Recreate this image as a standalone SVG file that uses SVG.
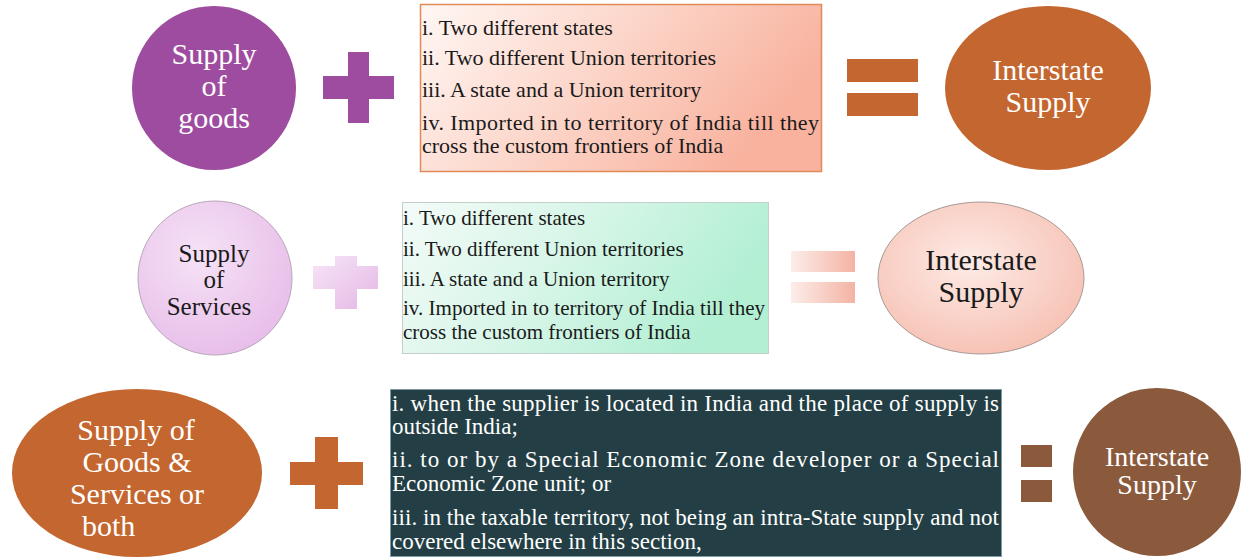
<svg xmlns="http://www.w3.org/2000/svg" width="1243" height="560" viewBox="0 0 1243 560">
  <defs>
    <linearGradient id="gPeach" x1="0" y1="0" x2="1" y2="0.35">
      <stop offset="0" stop-color="#FFF7F4"/>
      <stop offset="0.5" stop-color="#FCD6CA"/>
      <stop offset="1" stop-color="#F8B29E"/>
    </linearGradient>
    <linearGradient id="gMint" x1="0" y1="0" x2="1" y2="0.3">
      <stop offset="0" stop-color="#F4FBF8"/>
      <stop offset="0.55" stop-color="#D3F5E6"/>
      <stop offset="1" stop-color="#B2EFD3"/>
    </linearGradient>
    <radialGradient id="gLav" cx="0.4" cy="0.35" r="0.7">
      <stop offset="0" stop-color="#F6E2F6"/>
      <stop offset="1" stop-color="#E7BDE9"/>
    </radialGradient>
    <linearGradient id="gLavPlus" x1="0" y1="0" x2="1" y2="1">
      <stop offset="0" stop-color="#F7E6F7"/>
      <stop offset="1" stop-color="#E4B6E6"/>
    </linearGradient>
    <linearGradient id="gPinkEq" x1="0" y1="0" x2="1" y2="0">
      <stop offset="0" stop-color="#FCEDE9"/>
      <stop offset="1" stop-color="#F4B3A4"/>
    </linearGradient>
    <radialGradient id="gPinkOval" cx="0.45" cy="0.4" r="0.7">
      <stop offset="0" stop-color="#FDEBE6"/>
      <stop offset="1" stop-color="#F6BCAE"/>
    </radialGradient>
    <style>
      text { font-family: "Liberation Serif", "DejaVu Serif", serif; }
      .big { font-size: 30px; text-anchor: middle; }
      .mid { font-size: 28px; text-anchor: middle; }
      .small { font-size: 25px; text-anchor: middle; }
      .list1 { font-size: 22px; fill: #1a1a1a; }
      .list2 { font-size: 21px; fill: #1a1a1a; }
      .list3 { font-size: 23px; fill: #ffffff; }
      .white { fill: #ffffff; }
      .dark { fill: #1a1a1a; }
    </style>
  </defs>

  <!-- Row 1: goods -->
  <g id="supply-goods">
    <circle cx="214" cy="88" r="82" fill="#9E4C9F"/>
    <text class="big white" x="214" y="64">Supply</text>
    <text class="big white" x="214" y="96">of</text>
    <text class="big white" x="214" y="128">goods</text>
  </g>
  <g id="plus-1" fill="#9E4C9F">
    <rect x="323" y="76" width="71" height="23"/>
    <rect x="348" y="52" width="21" height="71"/>
  </g>
  <g id="conditions-goods">
    <rect x="420.500" y="4.500" width="401" height="167" fill="url(#gPeach)" stroke="#E08A5A" stroke-width="1.500"/>
    <text class="list1" x="422" y="35">i. Two different states</text>
    <text class="list1" x="422" y="65">ii. Two different Union territories</text>
    <text class="list1" x="422" y="97">iii. A state and a Union territory</text>
    <text class="list1" x="422" y="130" textLength="397" lengthAdjust="spacing">iv. Imported in to territory of India till they</text>
    <text class="list1" x="422" y="153">cross the custom frontiers of India</text>
  </g>
  <g id="equals-1" fill="#C4662F">
    <rect x="847" y="59" width="71" height="23"/>
    <rect x="847" y="93" width="71" height="23"/>
  </g>
  <g id="interstate-1">
    <ellipse cx="1048" cy="88" rx="103" ry="82" fill="#C4662F"/>
    <text class="big white" x="1048" y="80">Interstate</text>
    <text class="big white" x="1048" y="112">Supply</text>
  </g>

  <!-- Row 2: services -->
  <g id="supply-services">
    <circle cx="215" cy="278" r="77" fill="url(#gLav)" stroke="#B8A8B8" stroke-width="1"/>
    <text class="small dark" x="214" y="262">Supply</text>
    <text class="small dark" x="214" y="288">of</text>
    <text class="small dark" x="209" y="315">Services</text>
  </g>
  <g id="plus-2" fill="url(#gLavPlus)">
    <path d="M335 256 H357 V266 H378 V289 H357 V309 H335 V289 H313 V266 H335 Z"/>
  </g>
  <g id="conditions-services">
    <rect x="402.500" y="202.500" width="366" height="151" fill="url(#gMint)" stroke="#C5CFCA" stroke-width="1"/>
    <text class="list2" x="403" y="225">i. Two different states</text>
    <text class="list2" x="403" y="256">ii. Two different Union territories</text>
    <text class="list2" x="403" y="286">iii. A state and a Union territory</text>
    <text class="list2" x="403" y="315" textLength="362" lengthAdjust="spacing">iv. Imported in to territory of India till they</text>
    <text class="list2" x="403" y="339">cross the custom frontiers of India</text>
  </g>
  <g id="equals-2" fill="url(#gPinkEq)">
    <rect x="791" y="251" width="64" height="21"/>
    <rect x="791" y="282" width="64" height="21"/>
  </g>
  <g id="interstate-2">
    <ellipse cx="981" cy="278" rx="103" ry="76" fill="url(#gPinkOval)" stroke="#A89A96" stroke-width="1"/>
    <text class="big dark" x="981" y="270">Interstate</text>
    <text class="big dark" x="981" y="302">Supply</text>
  </g>

  <!-- Row 3: goods and services -->
  <g id="supply-both">
    <ellipse cx="137" cy="473" rx="125" ry="84" fill="#C4662F"/>
    <text class="big white" x="136" y="440">Supply of</text>
    <text class="big white" x="137" y="472">Goods &amp;</text>
    <text class="big white" x="137" y="504">Services or</text>
    <text class="white" x="82" y="536" style="font-size:30px">both</text>
  </g>
  <g id="plus-3" fill="#C4662F">
    <rect x="290" y="462" width="73" height="23"/>
    <rect x="315" y="437" width="23" height="72"/>
  </g>
  <g id="conditions-both">
    <rect x="390.500" y="389.500" width="611" height="167" fill="#233F45" stroke="#7F9AA0" stroke-width="1"/>
    <text class="list3" x="392" y="411" textLength="607" lengthAdjust="spacing">i. when the supplier is located in India and the place of supply is</text>
    <text class="list3" x="392" y="434">outside India;</text>
    <text class="list3" x="392" y="467" textLength="607" lengthAdjust="spacing">ii. to or by a Special Economic Zone developer or a Special</text>
    <text class="list3" x="392" y="491">Economic Zone unit; or</text>
    <text class="list3" x="392" y="525" textLength="607" lengthAdjust="spacing">iii. in the taxable territory, not being an intra-State supply and not</text>
    <text class="list3" x="392" y="549">covered elsewhere in this section,</text>
  </g>
  <g id="equals-3" fill="#8B5A3C">
    <rect x="1021" y="445" width="31" height="22"/>
    <rect x="1021" y="480" width="31" height="22"/>
  </g>
  <g id="interstate-3">
    <circle cx="1157" cy="472" r="84" fill="#8B5A3C"/>
    <text class="mid white" x="1157" y="466">Interstate</text>
    <text class="mid white" x="1157" y="494">Supply</text>
  </g>
</svg>
